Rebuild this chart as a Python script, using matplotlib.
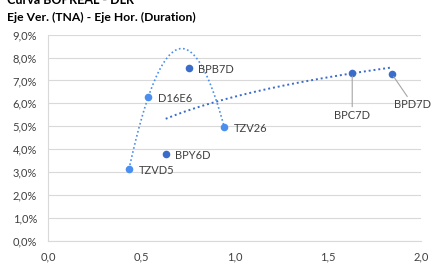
import numpy as np
import matplotlib
matplotlib.use('Agg')
import matplotlib.pyplot as plt
from matplotlib.ticker import FuncFormatter

plt.rcParams['font.family'] = ['Lato', 'DejaVu Sans']

# series 1 (light blue, polynomial trend)
names_1 = ['TZVD5', 'D16E6', 'TZV26']
dur_1 = [0.433, 0.537, 0.944]
tna_1 = [3.13, 6.29, 4.97]

# series 2 (dark blue, log trend)
names_2 = ['BPB7D', 'BPY6D', 'BPC7D', 'BPD7D']
dur_2 = [0.753, 0.630, 1.631, 1.845]
tna_2 = [7.53, 3.80, 7.31, 7.27]

c1 = '#4a8ff0'
c2 = '#3a6cc9'

fig = plt.figure(figsize=(4.34, 2.63), dpi=100)
ax = fig.add_axes([0.1113, 0.0848, 0.8587, 0.7832])

# trendlines
p = np.polyfit(dur_1, tna_1, 2)
xs = np.linspace(min(dur_1), max(dur_1), 200)
ax.plot(xs, np.polyval(p, xs), color=c1, lw=1.2, ls=(0, (1, 1.5)), zorder=2)

q = np.polyfit(np.log(dur_2), tna_2, 1)
xs2 = np.linspace(min(dur_2), max(dur_2), 200)
ax.plot(xs2, q[0] * np.log(xs2) + q[1], color=c2, lw=1.4, ls=(0, (1, 1.5)), zorder=2)

ax.scatter(dur_1, tna_1, s=30, color=c1, zorder=3, linewidths=0)
ax.scatter(dur_2, tna_2, s=30, color=c2, zorder=3, linewidths=0)

lbl = dict(fontsize=8, color='#404040', va='center')
for n, x, y in zip(names_1, dur_1, tna_1):
    ax.annotate(n, (x, y), xytext=(7, -1), textcoords='offset points', **lbl)
for n, x, y in zip(names_2[:2], dur_2[:2], tna_2[:2]):
    ax.annotate(n, (x, y), xytext=(7, -1), textcoords='offset points', **lbl)
# labels with leader lines
ax.annotate(names_2[2], (dur_2[2], tna_2[2]), xytext=(0, -26), textcoords='offset points',
            ha='center', va='top', fontsize=8, color='#404040',
            arrowprops=dict(arrowstyle='-', color='#a6a6a6', lw=0.8, shrinkA=0, shrinkB=2))
ax.annotate(names_2[3], (dur_2[3], tna_2[3]), xytext=(15, -18), textcoords='offset points',
            ha='center', va='top', fontsize=8, color='#404040',
            arrowprops=dict(arrowstyle='-', color='#a6a6a6', lw=0.8, shrinkA=0, shrinkB=2))

ax.set_xlim(0, 2)
ax.set_ylim(0, 9)
ax.set_xticks(np.arange(0, 2.01, 0.5))
ax.set_yticks(np.arange(0, 9.01, 1))
ax.xaxis.set_major_formatter(FuncFormatter(lambda v, _: f'{v:.1f}'.replace('.', ',')))
ax.yaxis.set_major_formatter(FuncFormatter(lambda v, _: f'{v:.1f}%'.replace('.', ',')))
ax.tick_params(length=0, labelsize=8, colors='#404040', pad=8)
ax.grid(axis='y', color='#d9d9d9', lw=0.8)
ax.set_axisbelow(True)
for s in ['top', 'right']:
    ax.spines[s].set_visible(False)
for s in ['left', 'bottom']:
    ax.spines[s].set_color('#d9d9d9')
    ax.spines[s].set_linewidth(0.8)

fig.text(0.016, 1.0, 'Curva BOPREAL - DLR', fontsize=9, fontweight='bold', va='center')
fig.text(0.016, 0.935, 'Eje Ver. (TNA) - Eje Hor. (Duration)', fontsize=8.7,
         fontweight='bold', va='center')

fig.savefig('out.png', dpi=100)
